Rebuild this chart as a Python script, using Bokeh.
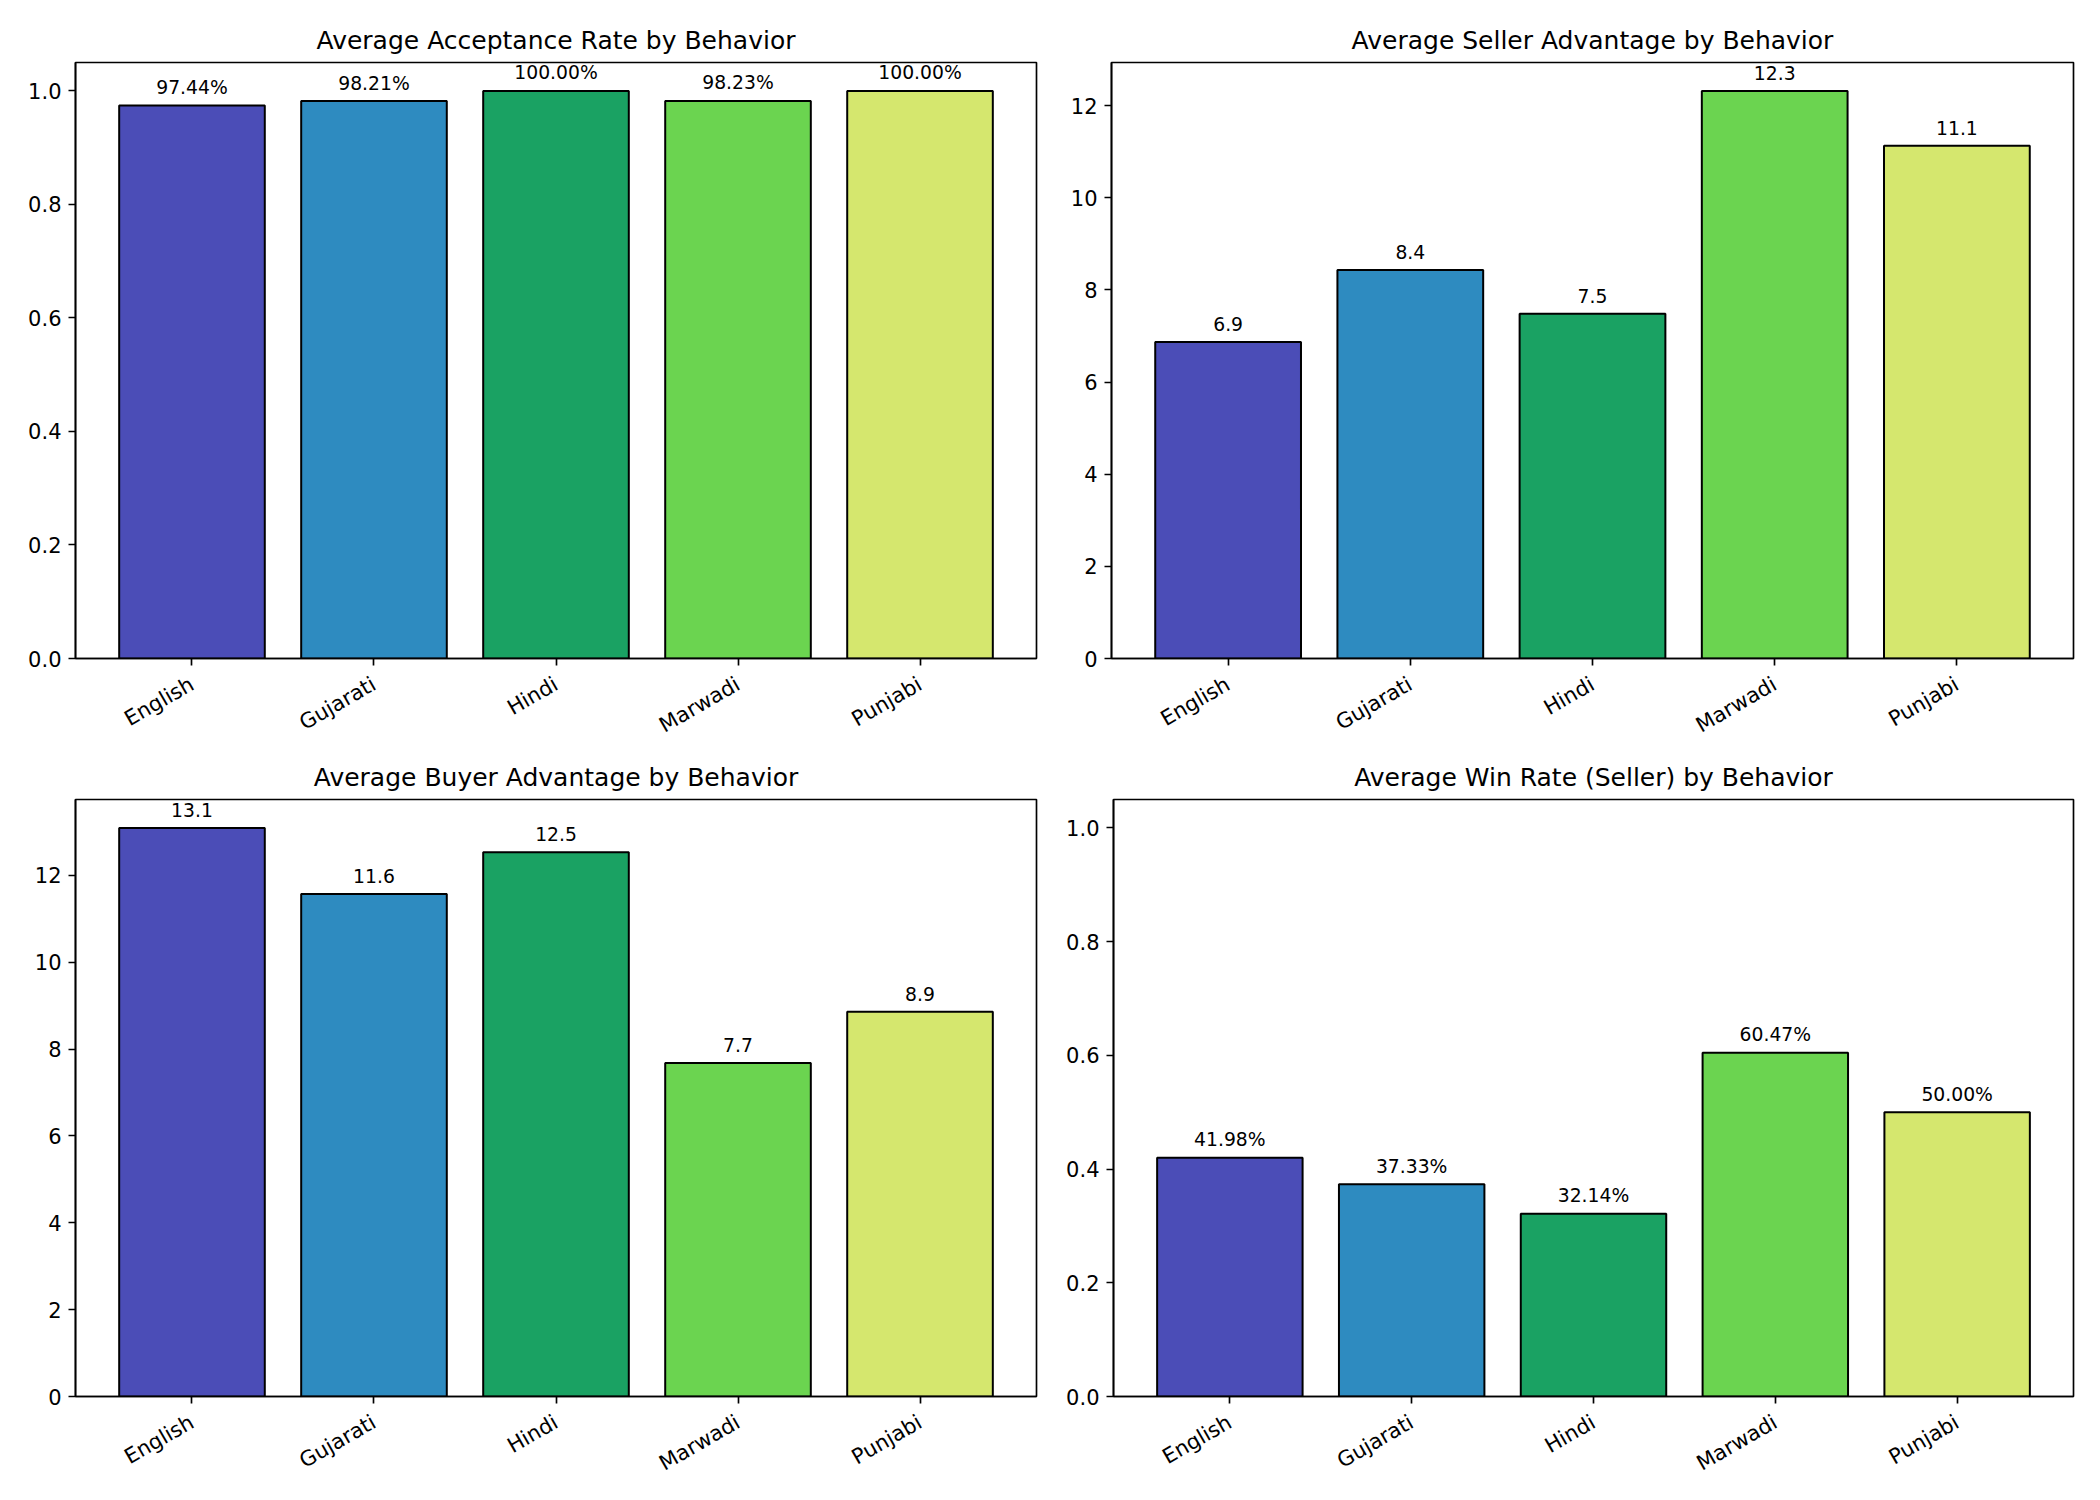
from bokeh.plotting import figure
from bokeh.models import Range1d, FixedTicker, NumeralTickFormatter, ColumnDataSource
from bokeh.layouts import column, row
from bokeh.embed import file_html
from bokeh.resources import INLINE
from bokeh.core.properties import value
import math

# ---- data ----
behaviors = ["English", "Gujarati", "Hindi", "Marwadi", "Punjabi"]
bar_colors = ["#4B4DB7", "#2E8BC0", "#1AA263", "#6BD450", "#D5E76E"]

acceptance_rate = [0.9744, 0.9821, 1.0000, 0.9823, 1.0000]
seller_advantage = [6.87, 8.43, 7.48, 12.32, 11.13]
buyer_advantage = [13.09, 11.57, 12.53, 7.68, 8.86]
win_rate_seller = [0.4198, 0.3733, 0.3214, 0.6047, 0.5000]

titles = ["Average Acceptance Rate by Behavior",
          "Average Seller Advantage by Behavior",
          "Average Buyer Advantage by Behavior",
          "Average Win Rate (Seller) by Behavior"]

rate_ticks = [0.0, 0.2, 0.4, 0.6, 0.8, 1.0]
seller_ticks = [0, 2, 4, 6, 8, 10, 12]
buyer_ticks = [0, 2, 4, 6, 8, 10, 12]

FONT = "DejaVu Sans"
LW = 1.67


def make_panel(title, vals, ymax, ticks, fmt, label_fn, width, height, bl, br, bt, bb):
    p = figure(width=width, height=height, output_backend="svg", toolbar_location=None,
               x_range=Range1d(-0.64, 4.64), y_range=Range1d(0, ymax),
               min_border_left=bl, min_border_right=br, min_border_top=bt, min_border_bottom=bb)
    p.title.text = title
    p.title.text_font = FONT
    p.title.text_font_size = "25px"
    p.title.text_font_style = "normal"
    p.title.text_color = "black"
    p.title.align = "center"
    p.title.standoff = 15
    p.xgrid.visible = False
    p.ygrid.visible = False
    p.outline_line_color = "black"
    p.outline_line_width = LW
    p.outline_line_alpha = 1.0
    p.background_fill_color = "white"
    p.border_fill_color = "white"

    xs = list(range(len(behaviors)))
    src = ColumnDataSource(dict(x=xs, top=vals, color=bar_colors,
                                label=[label_fn(v) for v in vals]))
    p.vbar(x="x", top="top", bottom=0, width=0.8, fill_color="color", line_color="black",
           line_width=2, source=src)
    p.text(x="x", y="top", text="label", source=src, text_align="center",
           text_baseline="alphabetic", y_offset=-18, text_font=value(FONT),
           text_font_size=value("18.75px"), text_color="black")

    for ax in (p.xaxis[0], p.yaxis[0]):
        ax.axis_line_color = "black"
        ax.axis_line_width = LW
        ax.major_tick_line_color = "black"
        ax.major_tick_line_width = LW
        ax.major_tick_out = 7
        ax.major_tick_in = 0
        ax.minor_tick_out = 0
        ax.minor_tick_in = 0
        ax.major_label_text_font = FONT
        ax.major_label_text_font_size = "21px"
        ax.major_label_text_color = "black"
        ax.major_label_standoff = 7

    p.xaxis.ticker = FixedTicker(ticks=xs)
    p.xaxis.major_label_overrides = {i: b for i, b in enumerate(behaviors)}
    p.xaxis.major_label_orientation = math.pi / 6
    p.xaxis.major_label_standoff = 17
    p.yaxis.ticker = FixedTicker(ticks=ticks)
    p.yaxis.formatter = NumeralTickFormatter(format=fmt)
    return p


def pct(v):
    return f"{v * 100:.2f}%"


def one(v):
    return f"{v:.1f}"


p1 = make_panel(titles[0], acceptance_rate, 1.05, rate_ticks, "0.0", pct,
                1063, 750, 75, 27, 62, 90)
p2 = make_panel(titles[1], seller_advantage, max(seller_advantage) * 1.05, seller_ticks, "0", one,
                1020, 750, 48, 10, 62, 90)
p3 = make_panel(titles[2], buyer_advantage, max(buyer_advantage) * 1.05, buyer_ticks, "0", one,
                1063, 738, 75, 27, 49, 90)
p4 = make_panel(titles[3], win_rate_seller, 1.05, rate_ticks, "0.0", pct,
                1020, 738, 48, 10, 49, 90)

layout = column(row(p1, p2), row(p3, p4))
open("out.html", "w").write(file_html(layout, INLINE))
